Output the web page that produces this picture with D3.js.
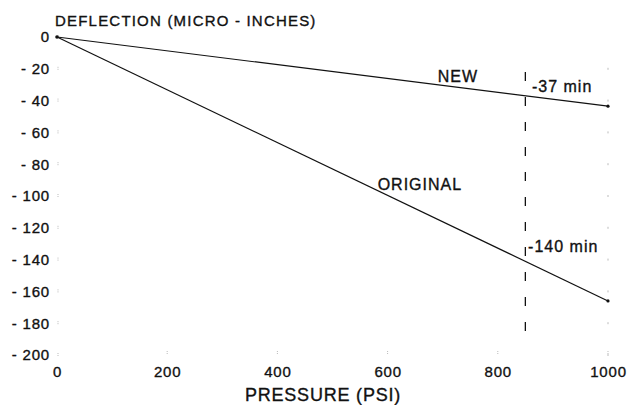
<!DOCTYPE html>
<html>
<head>
<meta charset="utf-8">
<script src="https://cdn.jsdelivr.net/npm/d3@7"></script>
<style>
  body { margin: 0; background: #fff; }
  svg { font-family: "Liberation Sans", Arial, sans-serif; }
</style>
</head>
<body>
<svg id="chart" width="629" height="405"></svg>
<script>
// data
var pressureTicks = [0, 200, 400, 600, 800, 1000];
var deflectionTicks = [0, -20, -40, -60, -80, -100, -120, -140, -160, -180, -200];
var newSeries = [[0, 0], [1000, -43.5]];
var originalSeries = [[0, 0], [1000, -166]];
var markerPressure = 850;
var markerRange = [-22, -193];
var notes = [
    { label: 'NEW', x: 691, y: -28.3 },
    { label: '-37 min', x: 862, y: -34.6 },
    { label: 'ORIGINAL', x: 582, y: -96.2 },
    { label: '-140 min', x: 855, y: -135 }
];

var svg = d3.select('#chart');
var x = d3.scaleLinear().domain([0, 1000]).range([57, 608]);
var y = d3.scaleLinear().domain([0, -200]).range([37, 355]);

function inkText(sel, size, spacing) {
    sel.attr('font-size', size)
        .attr('letter-spacing', spacing)
        .attr('fill', '#111')
        .attr('stroke', '#111')
        .attr('stroke-width', 0.35)
        .attr('font-family', '"Liberation Sans", Arial, sans-serif');
}

// y axis, tick labels only plus faint dotted ticks
var yAxis = svg.append('g')
    .attr('transform', 'translate(' + x(0) + ',0)')
    .call(d3.axisLeft(y)
        .tickValues(deflectionTicks)
        .tickSize(0)
        .tickPadding(7)
        .tickFormat(function(d) { return d === 0 ? '0' : '- ' + Math.abs(d); }));
yAxis.select('.domain').remove();
yAxis.selectAll('text').call(inkText, 15, 0.8);

// x axis
var xAxis = svg.append('g')
    .attr('transform', 'translate(0,' + y(-200) + ')')
    .call(d3.axisBottom(x)
        .tickValues(pressureTicks)
        .tickSize(0)
        .tickPadding(11)
        .tickFormat(d3.format('d')));
xAxis.select('.domain').remove();
xAxis.selectAll('text').call(inkText, 15, 0.8);

// faint grid dots along the edges
var dots = svg.append('g').attr('stroke', '#bbb').attr('stroke-width', 1);
dots.selectAll('.yl').data(deflectionTicks).enter().append('line')
    .attr('x1', x(0) + 1).attr('x2', x(0) + 1)
    .attr('y1', function(d) { return y(d) - 2; })
    .attr('y2', function(d) { return y(d) + 2; })
    .attr('stroke-dasharray', '1,1');
dots.selectAll('.yr').data(deflectionTicks.filter(function(d) { return d < 0; })).enter().append('line')
    .attr('x1', x(1000)).attr('x2', x(1000))
    .attr('y1', function(d) { return y(d) - 1; })
    .attr('y2', function(d) { return y(d) + 1; });
dots.selectAll('.xb').data(pressureTicks.slice(1)).enter().append('line')
    .attr('x1', function(d) { return x(d); })
    .attr('x2', function(d) { return x(d); })
    .attr('y1', y(-200) - 4).attr('y2', y(-200))
    .attr('stroke-dasharray', '1,1');

// series lines
var line = d3.line()
    .x(function(d) { return x(d[0]); })
    .y(function(d) { return y(d[1]); });

[newSeries, originalSeries].forEach(function(s) {
    svg.append('path')
        .datum(s)
        .attr('d', line)
        .attr('fill', 'none')
        .attr('stroke', '#111')
        .attr('stroke-width', 1.2);
    svg.append('circle')
        .attr('cx', x(s[s.length - 1][0]))
        .attr('cy', y(s[s.length - 1][1]))
        .attr('r', 1.6)
        .attr('fill', '#111');
});
svg.append('circle').attr('cx', x(0)).attr('cy', y(0)).attr('r', 1.8).attr('fill', '#111');

// dashed marker at 850 psi
svg.append('line')
    .attr('x1', x(markerPressure)).attr('x2', x(markerPressure))
    .attr('y1', y(markerRange[0])).attr('y2', y(markerRange[1]))
    .attr('stroke', '#111')
    .attr('stroke-width', 1.3)
    .attr('stroke-dasharray', '9,16');

// annotations
svg.selectAll('.note').data(notes).enter().append('text')
    .attr('x', function(d) { return x(d.x); })
    .attr('y', function(d) { return y(d.y); })
    .call(inkText, 16, 1)
    .text(function(d) { return d.label; });

// axis titles
svg.append('text')
    .attr('x', 55).attr('y', 26)
    .call(inkText, 15, 1.2)
    .text('DEFLECTION (MICRO - INCHES)');

svg.append('text')
    .attr('x', 323).attr('y', 401)
    .attr('text-anchor', 'middle')
    .call(inkText, 18, 0.8)
    .text('PRESSURE (PSI)');
</script>
</body>
</html>
